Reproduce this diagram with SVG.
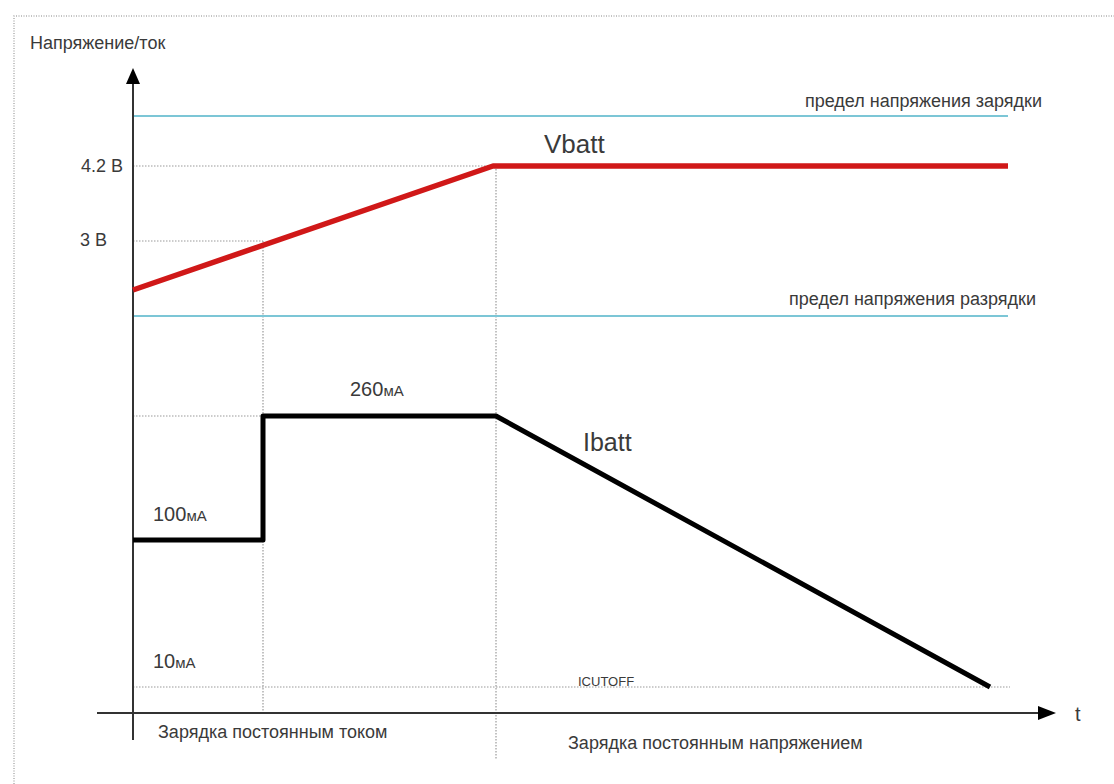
<svg xmlns="http://www.w3.org/2000/svg" width="1114" height="784" viewBox="0 0 1114 784">
<style>
text{font-family:"Liberation Sans",Arial,sans-serif;fill:#3a3a3a}
.frame{stroke:#b0b0b0;stroke-width:1.5;stroke-dasharray:1 1.5;fill:none}
.grid{stroke:#9a9a9a;stroke-width:1.2;stroke-dasharray:1.5 1.5;fill:none}
.limit{stroke:#7cc6d6;stroke-width:2;fill:none}
.axis{stroke:#333;stroke-width:2;fill:none}
.v{stroke:#d01818;stroke-width:5.5;fill:none;stroke-linejoin:round}
.i{stroke:#000;stroke-width:5;fill:none;stroke-linejoin:round}
.s{font-size:18px}
.c{font-size:20px}
</style>
<rect width="1114" height="784" fill="#fff"/>
<path class="frame" d="M14,784 V16 H1114"/>
<g id="grid">
<path class="grid" d="M133,166 H493"/>
<path class="grid" d="M133,241 H263"/>
<path class="grid" d="M133,416 H263"/>
<path class="grid" d="M133,687 H1010"/>
<path class="grid" d="M263,241 V713"/>
<path class="grid" d="M496,166 V760"/>
</g>
<g id="limits">
<path class="limit" d="M133,116 H1008"/>
<path class="limit" d="M133,316 H1008"/>
</g>
<g id="axes">
<path class="axis" d="M133,740 V84"/>
<path d="M126,84 L133,68 L140,84 z" fill="#000"/>
<path class="axis" d="M97,713 H1040"/>
<path d="M1038,706 L1056,713 L1038,720 z" fill="#000"/>
</g>
<g id="vbatt">
<path class="v" d="M133,290 L493,166 H1008"/>
</g>
<g id="ibatt">
<path class="i" d="M133,540 H263 V416 H496 L990,687"/>
</g>
<g id="labels">
<text class="s" x="30" y="49">Напряжение/ток</text>
<text class="s" x="123" y="172" text-anchor="end">4.2 В</text>
<text class="s" x="107" y="246" text-anchor="end">3 В</text>
<text class="s" x="1042" y="107" text-anchor="end">предел напряжения зарядки</text>
<text class="s" x="1036" y="305" text-anchor="end">предел напряжения разрядки</text>
<text x="544" y="153" font-size="26">Vbatt</text>
<text class="c" x="350" y="396">260<tspan font-size="15">мА</tspan></text>
<text x="583" y="451" font-size="25">Ibatt</text>
<text class="c" x="153" y="521">100<tspan font-size="15">мА</tspan></text>
<text class="c" x="153" y="668">10<tspan font-size="15">мА</tspan></text>
<text x="578" y="686" font-size="13">ICUTOFF</text>
<text class="s" x="158" y="738">Зарядка постоянным током</text>
<text class="s" x="568" y="749">Зарядка постоянным напряжением</text>
<text x="1075" y="721" font-size="20">t</text>
</g>
</svg>
